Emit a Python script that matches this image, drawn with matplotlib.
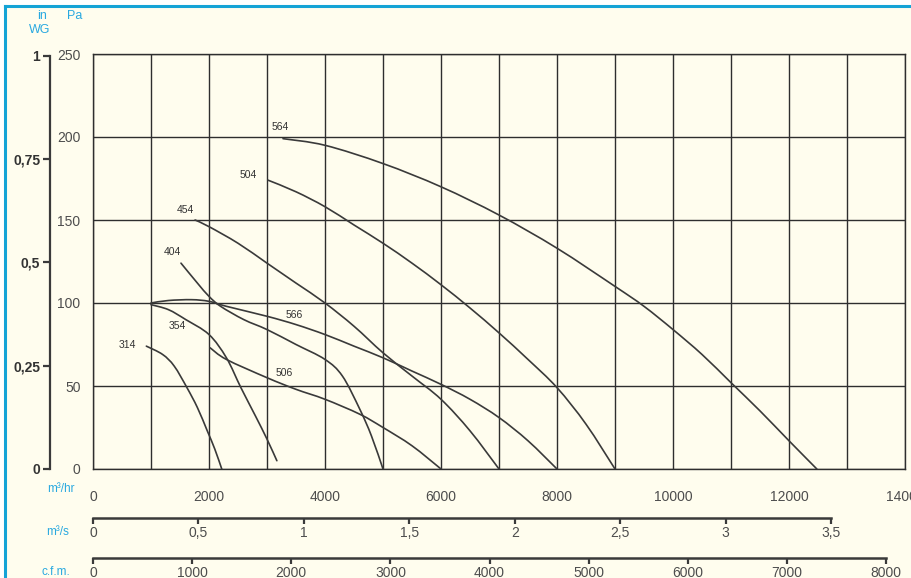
import numpy as np
import matplotlib.pyplot as plt
from matplotlib.lines import Line2D
from matplotlib.patches import Rectangle, PathPatch
from matplotlib.path import Path

# fan curves: airflow (m3/h) vs static pressure (Pa)
models = ['314', '354', '404', '454', '504', '564', '506', '566']

flow_314 = [920, 1200, 1400, 1620, 1800, 1970, 2100, 2220]
pa_314 = [74, 69, 62, 49, 37, 23, 12, 0]

flow_354 = [1000, 1300, 1600, 2000, 2300, 2550, 2800, 3000, 3170]
pa_354 = [99, 96, 90, 81, 67, 49, 32, 18, 5]

flow_404 = [1517, 1800, 2000, 2200, 2600, 3000, 3500, 4000, 4300, 4600, 4800, 5000]
pa_404 = [124, 112, 104, 98, 90, 84, 75, 66, 56, 36, 20, 0]

flow_454 = [1760, 2000, 2500, 3000, 3500, 4000, 4500, 5000, 5500, 6000, 6500, 7000]
pa_454 = [150, 146, 136, 124, 112, 100, 86, 70, 56, 42, 23, 0]

flow_504 = [3017, 3500, 4000, 4500, 5000, 5500, 6000, 6500, 7000, 7500, 8000, 8500, 9000]
pa_504 = [174, 167, 158, 147, 136, 124, 111, 97, 82, 66, 49, 27, 0]

flow_564 = [3276, 4000, 5000, 6000, 7000, 8000, 9000, 9500, 10000, 10500, 11000, 11500, 12000, 12480]
pa_564 = [199, 195, 184, 170, 153, 133, 110, 98, 84, 69, 52, 35, 17, 0]

flow_506 = [2020, 2300, 3000, 3500, 4000, 4600, 5000, 5500, 6000]
pa_506 = [73, 66, 55, 48, 42, 33, 25, 14, 0]

flow_566 = [1000, 1300, 1700, 2000, 2300, 3000, 3500, 4000, 4500, 5000, 5500, 6000, 6500, 7000, 7500, 8000]
pa_566 = [100, 101.5, 102, 101, 98, 92, 87, 81, 74, 67, 59, 51, 42, 31, 17, 0]

curves = {
    '314': (flow_314, pa_314), '354': (flow_354, pa_354),
    '404': (flow_404, pa_404), '454': (flow_454, pa_454),
    '504': (flow_504, pa_504), '564': (flow_564, pa_564),
    '506': (flow_506, pa_506), '566': (flow_566, pa_566),
}

# where each model number is written (m3/h, Pa)
label_at = {
    '314': (600, 75), '354': (1450, 86), '404': (1360, 131), '454': (1600, 156),
    '504': (2670, 177), '564': (3220, 206), '506': (3290, 58), '566': (3470, 93),
}

pa_ticks = [0, 50, 100, 150, 200, 250]
inwg_ticks = [0, 0.25, 0.5, 0.75, 1]
inwg_labels = ['0', '0,25', '0,5', '0,75', '1']
m3s_ticks = [0, 0.5, 1, 1.5, 2, 2.5, 3, 3.5]
m3s_labels = ['0', '0,5', '1', '1,5', '2', '2,5', '3', '3,5']
cfm_ticks = [0, 1000, 2000, 3000, 4000, 5000, 6000, 7000, 8000]

W, H = 911, 578
CREAM = '#fffdee'
CYAN = '#29a9e0'
INK = '#333333'
GREY = '#4d4d4d'

plt.rcParams['font.family'] = ['Liberation Sans', 'DejaVu Sans']


def fx(x):
    return x / W


def fy(y):
    return 1 - y / H


def smooth_path(xs, ys):
    # Catmull-Rom through the read points, drawn as cubic bezier segments
    p = np.column_stack([xs, ys]).astype(float)
    ext = np.vstack([p[0], p, p[-1]])
    verts = [p[0]]
    codes = [Path.MOVETO]
    for i in range(1, len(ext) - 2):
        c1 = ext[i] + (ext[i + 1] - ext[i - 1]) / 6
        c2 = ext[i + 1] - (ext[i + 2] - ext[i]) / 6
        verts += [c1, c2, ext[i + 1]]
        codes += [Path.CURVE4] * 3
    return Path(verts, codes)


fig = plt.figure(figsize=(W / 100, H / 100), dpi=100)
fig.patch.set_facecolor('white')

# cream panel with the blue frame on top and left
fig.add_artist(Rectangle((fx(6), 0), 1 - fx(6), fy(6), transform=fig.transFigure,
                         facecolor=CREAM, edgecolor='none', zorder=0))
fig.add_artist(Line2D([fx(5), 1], [fy(6), fy(6)], transform=fig.transFigure, color='#14a3d6', lw=2.2))
fig.add_artist(Line2D([fx(5), fx(5)], [0, fy(6)], transform=fig.transFigure, color='#14a3d6', lw=2.2))

# main chart
ax = fig.add_axes([fx(93), fy(469), (905 - 93) / W, (469 - 54) / H])
ax.set_facecolor(CREAM)
ax.set_xlim(0, 14000)
ax.set_ylim(0, 250)
ax.set_xticks(np.arange(0, 14001, 1000))
ax.set_xticklabels([str(v) if v % 2000 == 0 else '' for v in range(0, 14001, 1000)])
ax.set_yticks(pa_ticks)
ax.set_yticklabels([str(v) for v in pa_ticks])
ax.tick_params(length=0, labelsize=10, labelcolor=GREY)
ax.tick_params(axis='x', pad=15)
ax.tick_params(axis='y', pad=9)
ax.grid(True, color='#2e2e2e', lw=1.0)
for s in ax.spines.values():
    s.set_color('#2e2e2e')
    s.set_linewidth(1.0)

for m in models:
    fl, pa = curves[m]
    ax.add_patch(PathPatch(smooth_path(fl, pa), facecolor='none', edgecolor='#3a3a3a',
                           lw=1.2, capstyle='round', zorder=3))
    lx, ly = label_at[m]
    ax.text(lx, ly, m, fontsize=7.5, color=INK, ha='center', va='center', zorder=4)

# inch water gauge scale
ax_in = fig.add_axes([fx(50), fy(469), 0.0001, (469 - 54) / H])
ax_in.set_facecolor('none')
ax_in.set_ylim(0, 250)
ax_in.set_xticks([])
ax_in.set_yticks([v * 249 for v in inwg_ticks])
ax_in.set_yticklabels(inwg_labels)
for k in ['top', 'right', 'bottom']:
    ax_in.spines[k].set_visible(False)
ax_in.spines['left'].set_bounds(0, 249)
ax_in.spines['left'].set_linewidth(1.6)
ax_in.spines['left'].set_color('#3a3a3a')
ax_in.tick_params(axis='y', length=5, width=1.6, color='#3a3a3a', pad=2,
                  labelsize=10, labelcolor=INK)
for t in ax_in.get_yticklabels():
    t.set_fontweight('bold')

# m3/s scale
ax_s = fig.add_axes([fx(93), fy(518), (905 - 93) / W, 0.0001])
ax_s.set_facecolor('none')
ax_s.set_xlim(0, 3.85)
ax_s.set_yticks([])
ax_s.set_xticks(m3s_ticks)
ax_s.set_xticklabels(m3s_labels)

# cfm scale
ax_c = fig.add_axes([fx(93), fy(558), (905 - 93) / W, 0.0001])
ax_c.set_facecolor('none')
ax_c.set_xlim(0, 8190)
ax_c.set_yticks([])
ax_c.set_xticks(cfm_ticks)
ax_c.set_xticklabels([str(v) for v in cfm_ticks])

for a, hi in [(ax_s, 3.5), (ax_c, 8000)]:
    for k in ['top', 'right', 'left']:
        a.spines[k].set_visible(False)
    a.spines['bottom'].set_bounds(0, hi)
    a.spines['bottom'].set_linewidth(1.8)
    a.spines['bottom'].set_color('#3a3a3a')
    a.tick_params(axis='x', length=4, width=1.6, color='#3a3a3a', pad=2,
                  labelsize=10, labelcolor=GREY)

# unit captions
fig.text(fx(42), fy(16), 'in', color=CYAN, fontsize=9, ha='center', va='center')
fig.text(fx(40), fy(30), 'WG', color=CYAN, fontsize=9, ha='center', va='center')
fig.text(fx(75), fy(16), 'Pa', color=CYAN, fontsize=9, ha='center', va='center')
fig.text(fx(61), fy(489), 'm³/hr', color=CYAN, fontsize=8.5, ha='center', va='center')
fig.text(fx(58), fy(532), 'm³/s', color=CYAN, fontsize=8.5, ha='center', va='center')
fig.text(fx(56), fy(572), 'c.f.m.', color=CYAN, fontsize=8.5, ha='center', va='center')

fig.savefig('out.png', dpi=100)
